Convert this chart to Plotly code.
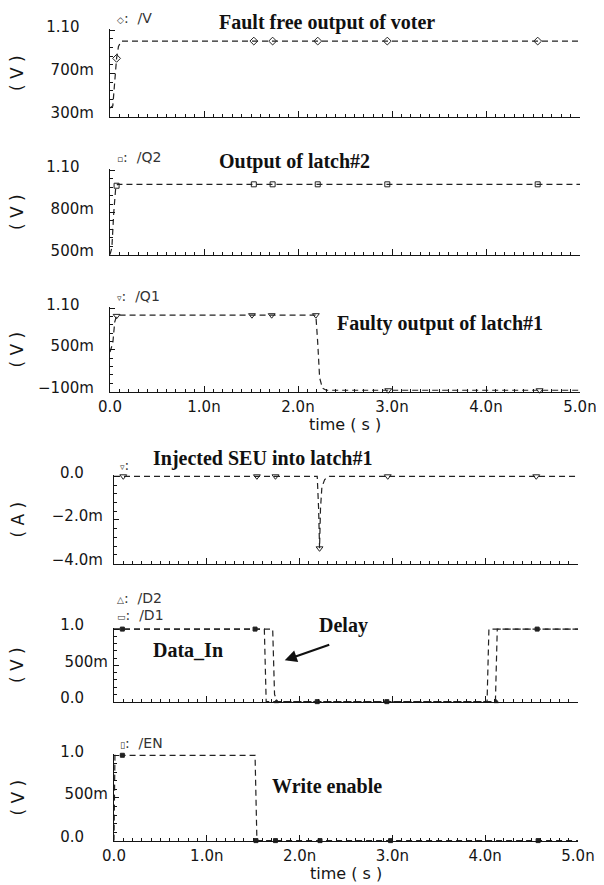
import plotly.graph_objects as go

# ---------------- data (time in ns) ----------------
x_tick_vals = [0, 1, 2, 3, 4, 5]
x_tick_text = ["0.0", "1.0n", "2.0n", "3.0n", "4.0n", "5.0n"]

# Fault-free voter output /V  (V)
v_t = [0.0, 0.03, 0.05, 0.07, 0.09, 0.12, 5.0]
v_val = [0.38, 0.40, 0.62, 0.84, 0.95, 1.0, 1.0]
v_mark_t = [0.07, 1.53, 1.73, 2.21, 2.95, 4.55]
v_mark_val = [0.84, 1.0, 1.0, 1.0, 1.0, 1.0]

# Latch #2 output /Q2 (V)
q2_t = [0.0, 0.02, 0.04, 0.06, 0.08, 5.0]
q2_val = [0.5, 0.55, 0.8, 0.97, 1.0, 1.0]
q2_mark_t = [0.07, 1.53, 1.73, 2.21, 2.95, 4.55]
q2_mark_val = [0.99, 1.0, 1.0, 1.0, 1.0, 1.0]

# Faulty latch #1 output /Q1 (V)
q1_t = [0.0, 0.03, 0.05, 0.07, 0.10, 2.19, 2.21, 2.23, 2.26, 2.30, 5.0]
q1_val = [0.47, 0.60, 0.90, 0.99, 1.0, 1.0, 0.6, 0.1, -0.05, -0.08, -0.08]
q1_mark_t = [0.07, 1.51, 1.72, 2.19, 2.96, 4.57]
q1_mark_val = [0.99, 1.0, 1.0, 1.0, -0.08, -0.08]

# Injected SEU current (mA)
seu_t = [0.0, 2.19, 2.205, 2.215, 2.225, 2.24, 2.27, 2.32, 5.0]
seu_mA = [0.0, 0.0, -1.5, -3.3, -1.5, -0.5, -0.15, 0.0, 0.0]
seu_mark_t = [0.1, 1.54, 1.74, 2.215, 2.95, 4.55]
seu_mark_mA = [0.0, 0.0, 0.0, -3.3, 0.0, 0.0]

# Data inputs /D1, /D2 (V)
d1_t = [0.0, 1.62, 1.64, 4.02, 4.04, 5.0]
d1_val = [1.0, 1.0, 0.0, 0.0, 1.0, 1.0]
d1_mark_t = [0.09, 1.52, 2.19, 2.94, 4.56]
d1_mark_val = [1.0, 1.0, 0.0, 0.0, 1.0]
d2_t = [0.0, 1.71, 1.73, 1.76, 4.11, 4.13, 5.0]
d2_val = [1.0, 1.0, 0.1, 0.0, 0.0, 1.0, 1.0]
d2_mark_t = [1.75, 4.12]
d2_mark_val = [0.0, 0.0]

# Write enable /EN (V)
en_t = [0.0, 0.01, 1.52, 1.54, 5.0]
en_val = [0.0, 1.0, 1.0, 0.0, 0.0]
en_mark_t = [0.09, 1.53, 1.74, 2.22, 2.98, 4.57]
en_mark_val = [1.0, 0.0, 0.0, 0.0, 0.0, 0.0]

# ---------------- layout helpers ----------------
OFF = 8                      # page body margin in the browser
WIN_W, WIN_H = 604, 885
W, H = WIN_W - OFF, WIN_H - OFF
INK = "#151515"
SANS = "DejaVu Sans"
SERIF = "Liberation Serif"


def px(x):
    return (x - OFF) / W


def py(y):
    return 1 - (y - OFF) / H


NB = "\u00a0"

panels = [
    dict(top=29, bot=117, left=110, right=580, rng=[0.3, 1.1], tv=[0.3, 0.7, 1.1],
         tt=["300m", "700m", "1.10" + NB * 3], so=12, unit="( V )", xl=False),
    dict(top=169, bot=255, left=110, right=580, rng=[0.5, 1.1], tv=[0.5, 0.8, 1.1],
         tt=["500m", "800m", "1.10" + NB * 3], so=12, unit="( V )", xl=False),
    dict(top=307, bot=392, left=110, right=580, rng=[-0.1, 1.1], tv=[-0.1, 0.5, 1.1],
         tt=["\u2212100m", "500m", "1.10" + NB * 3], so=12, unit="( V )", xl=True),
    dict(top=475, bot=564, left=114, right=578, rng=[-4.0, 0.0], tv=[-4.0, -2.0, 0.0],
         tt=["\u22124.0m", "\u22122.0m", "0.0" + NB * 4], so=7, unit="( A )", xl=False),
    dict(top=628, bot=702, left=114, right=578, rng=[0.0, 1.0], tv=[0.0, 0.5, 1.0],
         tt=["0.0" + NB * 5, "500m", "1.0" + NB * 5], so=2, unit="( V )", xl=False),
    dict(top=754, bot=841, left=114, right=578, rng=[0.0, 1.0], tv=[0.0, 0.5, 1.0],
         tt=["0.0" + NB * 5, "500m", "1.0" + NB * 5], so=2, unit="( V )", xl=True),
]

series = [
    [(v_t, v_val)],
    [(q2_t, q2_val)],
    [(q1_t, q1_val)],
    [(seu_t, seu_mA)],
    [(d1_t, d1_val), (d2_t, d2_val)],
    [(en_t, en_val)],
]
markers = [
    [(v_mark_t, v_mark_val, "diamond-open", 6)],
    [(q2_mark_t, q2_mark_val, "square-open", 5)],
    [(q1_mark_t, q1_mark_val, "triangle-down-open", 6)],
    [(seu_mark_t, seu_mark_mA, "triangle-down-open", 6)],
    [(d1_mark_t, d1_mark_val, "square", 4), (d2_mark_t, d2_mark_val, "triangle-up", 4)],
    [(en_mark_t, en_mark_val, "square", 4)],
]

fig = go.Figure()
layout = dict(
    template="none",
    width=W, height=H, margin=dict(l=0, r=0, t=0, b=0, autoexpand=False),
    paper_bgcolor="white", plot_bgcolor="white", showlegend=False,
    font=dict(family=SANS, size=15, color=INK),
)
annotations = []

for i, p in enumerate(panels):
    n = "" if i == 0 else str(i + 1)
    xname, yname = "x" + n, "y" + n
    lo, hi = p["rng"]
    span = hi - lo
    pad = span * 0.015
    xdom = [px(p["left"]), px(p["right"])]
    ydom = [py(p["bot"]), py(p["top"])]
    layout["xaxis" + n] = dict(
        domain=xdom, anchor=yname, range=[0, 5], showgrid=False, zeroline=False,
        automargin=False,
        showline=True, linecolor=INK, linewidth=1.3,
        ticks="inside", ticklen=6, tickwidth=1, tickcolor=INK,
        tickmode="array", tickvals=x_tick_vals, ticktext=x_tick_text,
        showticklabels=p["xl"], ticklabelstandoff=1,
        tickfont=dict(family=SANS, size=15, color=INK),
        minor=dict(ticks="inside", dtick=0.1, tick0=0, ticklen=3, tickwidth=1,
                   tickcolor=INK, showgrid=False),
        fixedrange=True,
    )
    layout["yaxis" + n] = dict(
        domain=ydom, anchor=xname, range=[lo - pad * 0.3, hi + pad], showgrid=False,
        zeroline=False, automargin=False, showline=True, linecolor=INK, linewidth=1.3,
        ticks="inside", ticklen=5, tickwidth=1, tickcolor=INK,
        tickmode="array", tickvals=p["tv"], ticktext=p["tt"],
        ticklabelstandoff=p["so"], ticklabelshift=-4,
        tickfont=dict(family=SANS, size=15, color=INK),
        minor=dict(ticks="inside", dtick=span / 10, tick0=lo, ticklen=3, tickwidth=1,
                   tickcolor=INK, showgrid=False),
        fixedrange=True,
    )
    for (tx, ty) in series[i]:
        fig.add_trace(go.Scatter(
            x=tx, y=ty, mode="lines", xaxis=xname, yaxis=yname,
            line=dict(color="#222", width=1.2, dash="6px,4px"), hoverinfo="skip",
        ))
    for (mt, mv, sym, sz) in markers[i]:
        fig.add_trace(go.Scatter(
            x=mt, y=mv, mode="markers", xaxis=xname, yaxis=yname, cliponaxis=False,
            marker=dict(symbol=sym, size=sz, color="#222", line=dict(color="#222", width=1)),
            hoverinfo="skip",
        ))
    annotations.append(dict(
        x=px(17), y=py((p["top"] + p["bot"]) / 2), xref="paper", yref="paper",
        text=p["unit"], textangle=-90, showarrow=False, xanchor="center", yanchor="middle",
        font=dict(family=SANS, size=17, color=INK),
    ))
    if p["xl"]:
        annotations.append(dict(
            x=px((p["left"] + p["right"]) / 2), y=py(p["bot"] + 32), xref="paper", yref="paper",
            text="time ( s )", showarrow=False, xanchor="center", yanchor="middle",
            font=dict(family=SANS, size=16, color=INK),
        ))

sig_labels = [
    (115, 18, "\u25c7", "/V"),
    (115, 157, "\u25ab", "/Q2"),
    (115, 296, "\u25bf", "/Q1"),
    (118, 465, "\u25bf", ""),
    (115, 598, "\u25b3", "/D2"),
    (115, 615, "\u25ad", "/D1"),
    (118, 743, "\u25af", "/EN"),
]
for (x0, y0, sym, name) in sig_labels:
    annotations.append(dict(
        x=px(x0), y=py(y0), xref="paper", yref="paper", xanchor="left", yanchor="middle",
        text="<span style='font-size:9px'>" + sym + "</span>:" + NB * 2 + name,
        showarrow=False, font=dict(family=SANS, size=14, color="#333"),
    ))

captions = [
    (217, 23, "Fault free output of voter"),
    (217, 161, "Output of latch#2"),
    (335, 323, "Faulty output of latch#1"),
    (151, 458, "Injected SEU into latch#1"),
    (317, 625, "Delay"),
    (151, 650, "Data_In"),
    (270, 786, "Write enable"),
]
for (x0, y0, txt) in captions:
    annotations.append(dict(
        x=px(x0), y=py(y0), xref="paper", yref="paper", xanchor="left", yanchor="middle",
        text="<b>" + txt + "</b>", showarrow=False,
        font=dict(family=SERIF, size=20, color="#111"),
    ))

annotations.append(dict(
    x=1.84, y=0.57, xref="x5", yref="y5", ax=46, ay=-16, axref="pixel", ayref="pixel",
    text="", showarrow=True, arrowhead=2, arrowsize=1.1, arrowwidth=2.2, arrowcolor="#111",
))

layout["annotations"] = annotations
fig.update_layout(**layout)
fig.write_html("out.html")
